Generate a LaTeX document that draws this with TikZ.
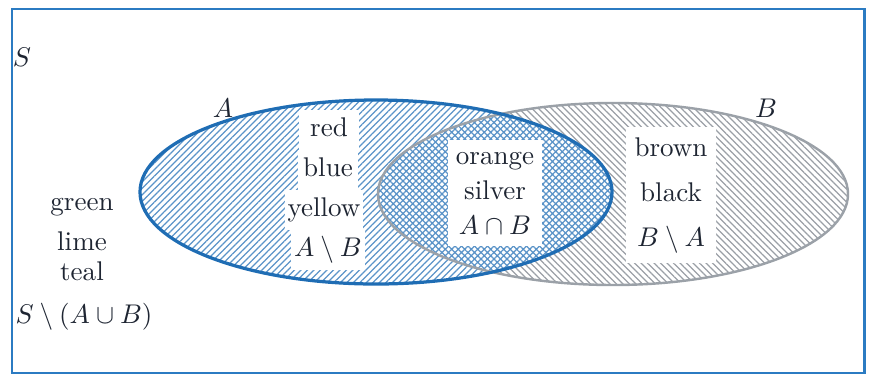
\documentclass[tikz,border=0pt]{standalone}
\usetikzlibrary{patterns.meta}
\definecolor{frameblue}{HTML}{2B7BC2}
\definecolor{setA}{HTML}{1F6DB4}
\definecolor{hatchA}{HTML}{5A93C8}
\definecolor{setB}{HTML}{9BA1A8}
\definecolor{hatchB}{HTML}{9A9FA6}
\definecolor{txt}{HTML}{1E2532}
\tikzset{
  lbl/.style={text=txt, inner sep=0pt, font=\fontsize{10}{12}\selectfont},
  box/.style={lbl, fill=white, inner xsep=1pt, text height=7pt, text depth=2pt},
  boxAB/.style={box, minimum height=14.8pt, minimum width=22pt},
  boxI/.style={box, minimum height=13pt, minimum width=35pt},
  boxBA/.style={box, minimum height=16.7pt, minimum width=33pt},
}
\begin{document}
\begin{tikzpicture}[x=0.013cm,y=-0.013cm]
\useasboundingbox (0,0) rectangle (869,376);
% universe
\draw[frameblue, line width=1.1pt] (12,9) rectangle (864,373);
% hatching
\fill[pattern={Lines[angle=45,distance=1.7pt,line width=0.45pt]}, pattern color=hatchA]
  (376,192) ellipse [x radius=236, y radius=92];
\fill[pattern={Lines[angle=-45,distance=1.7pt,line width=0.45pt]}, pattern color=hatchB]
  (613,194) ellipse [x radius=235, y radius=91];
\begin{scope}
  \clip (376,192) ellipse [x radius=236, y radius=92];
  \fill[white] (613,194) ellipse [x radius=235, y radius=91];
  \fill[pattern={Hatch[angle=45,distance=1.7pt,line width=0.5pt]}, pattern color=hatchA]
    (613,194) ellipse [x radius=235, y radius=91];
\end{scope}
% outlines
\draw[setB, line width=0.9pt] (613,194) ellipse [x radius=235, y radius=91];
\draw[setA, line width=1.2pt] (376,192) ellipse [x radius=236, y radius=92];
% labels
\node[lbl] (S) at (22,57) {$S$};
\node[lbl] (A) at (223,108) {$A$};
\node[lbl] (B) at (766,108) {$B$};
% A \ B
\node[boxAB] (red) at (329,130) {red};
\node[boxAB] (blue) at (328,170) {blue};
\node[boxAB] (yellow) at (324,210) {yellow};
\node[boxAB] (AmB) at (328,250) {$A\setminus B$};
% A cap B
\node[boxI] (orange) at (495,158) {orange};
\node[boxI] (silver) at (495,193) {silver};
\node[boxI] (AiB) at (495,228) {$A\cap B$};
% B \ A
\node[boxBA] (brown) at (671,150) {brown};
\node[boxBA] (black) at (671,195) {black};
\node[boxBA] (BmA) at (671,240) {$B\setminus A$};
% outside
\node[lbl] (green) at (82,207) {green};
\node[lbl] (lime) at (82,241) {lime};
\node[lbl] (teal) at (82,271) {teal};
\node[lbl] (SmAB) at (84,317) {$S\setminus(A\cup B)$};
\end{tikzpicture}
\end{document}
